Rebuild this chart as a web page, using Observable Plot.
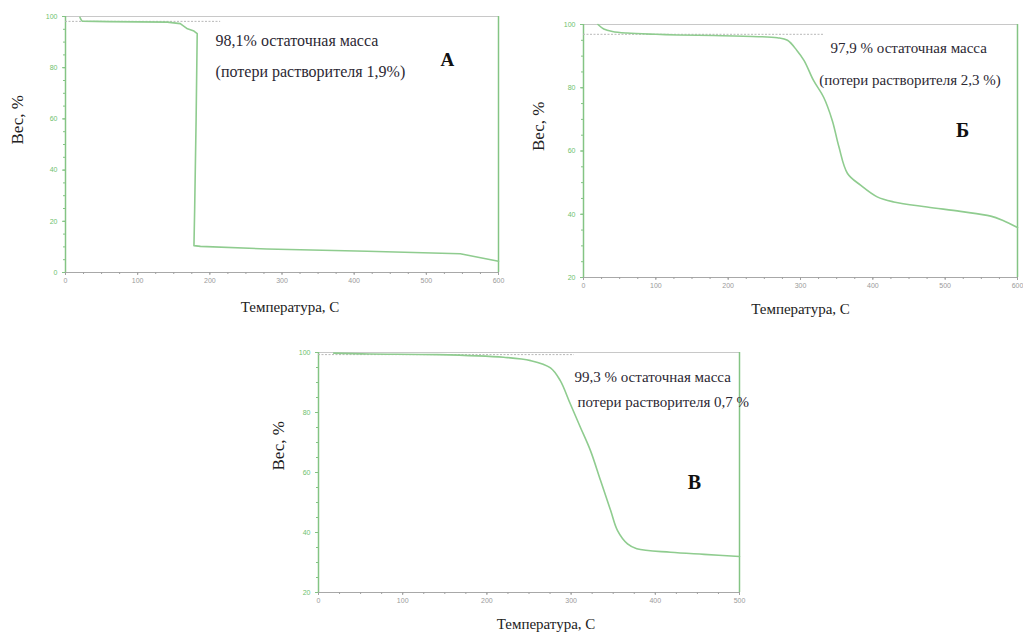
<!DOCTYPE html>
<html><head><meta charset="utf-8">
<script src="https://cdn.jsdelivr.net/npm/d3@7"></script>
<script src="https://cdn.jsdelivr.net/npm/@observablehq/plot@0.6"></script>
<style>
body{margin:0;background:#fff;width:1023px;height:636px;position:relative;overflow:hidden}
.p{position:absolute}
.p svg{background:transparent;overflow:visible}
</style>
</head><body>
<div id="pa" class="p" style="left:0;top:0"></div>
<div id="pb" class="p" style="left:515px;top:0"></div>
<div id="pv" class="p" style="left:260px;top:330px"></div>
<script>
// ---- Data ----
const xLabel = "Температура, С";
const yLabel = "Вес, %";

// Panel A
const tempA = [20, 21, 23, 60, 100, 141, 159, 169, 178, 182.5, 181, 179, 178, 187, 279, 418, 547, 600];
const massA = [99.7, 99.0, 98.2, 98.0, 97.9, 97.8, 97.2, 95.2, 94.3, 93.3, 60, 25, 10.5, 10.2, 9.2, 8.3, 7.3, 4.4];
const levelA = [{x1: 0, x2: 215, y: 98.1}];
const notesA = ["98,1% остаточная масса", "(потери растворителя 1,9%)"];
const letterA = "А";

// Panel Б
const tempB = [20, 28, 40, 60, 100, 130, 180, 221, 268, 282, 295, 305, 318, 332, 344, 353, 365, 383, 406, 429, 475, 521, 563, 580, 600];
const massB = [100, 98.6, 97.8, 97.3, 96.9, 96.7, 96.5, 96.3, 95.8, 95.0, 91.8, 88.6, 82.3, 77, 69.6, 61.4, 52.9, 49.2, 45.5, 43.9, 42.3, 40.9, 39.4, 38.0, 35.8];
const levelB = [{x1: 0, x2: 332, y: 96.9}];
const notesB = ["97,9 % остаточная масса", "(потери растворителя 2,3 %)"];
const letterB = "Б";

// Panel В
const tempV = [18, 60, 141, 220, 252, 275.5, 287, 299, 311, 323, 335, 347, 355, 367, 378, 418, 458, 500];
const massV = [99.8, 99.5, 99.3, 98.4, 97.3, 94.9, 90.7, 82.9, 75.1, 67.3, 57.3, 47.3, 40.7, 36.2, 34.6, 33.4, 32.7, 32];
const levelV = [{x1: 0, x2: 304, y: 99.3}];
const notesV = ["99,3 % остаточная масса", "потери растворителя 0,7 %"];
const letterV = "В";

// ---- Styles ----
const lineColor = "#8fcc8f";
const axisGreen = "#84c484";
const serif = "'Liberation Serif', 'Times New Roman', serif";
const sans = "'Liberation Sans', Arial, sans-serif";

function panel(cfg) {
  const pts = cfg.T.map((t, i) => ({t, w: cfg.W[i]}));
  const [x0, x1] = cfg.xDomain, [y0, y1] = cfg.yDomain;
  const noteData = cfg.notes.map((s, i) => ({s, x: cfg.notePos[i][0], y: cfg.notePos[i][1]}));
  const chart = Plot.plot({
    width: cfg.width, height: cfg.height,
    marginLeft: cfg.m[0], marginTop: cfg.m[1], marginRight: cfg.m[2], marginBottom: cfg.m[3],
    x: {domain: cfg.xDomain, axis: null},
    y: {domain: cfg.yDomain, axis: null},
    style: {fontFamily: serif, background: "transparent"},
    marks: [
      Plot.ruleY([y1], {stroke: "#c8c8c8", strokeWidth: 1.2}),
      Plot.ruleY([y0], {stroke: "#a8a8a8", strokeWidth: 1}),
      Plot.ruleX([x1], {stroke: axisGreen, strokeWidth: 1.5}),
      Plot.axisX({ticks: d3.range(x0, x1 + 1, 25), tickSize: 2, stroke: "#a0a0a0", tickFormat: () => ""}),
      Plot.axisX({ticks: d3.range(x0, x1 + 1, 100), tickSize: 3, tickPadding: 3, stroke: "#a0a0a0", fill: "#9a9a9a", fontSize: 7, fontFamily: sans, tickFormat: d => String(d)}),
      Plot.axisY({ticks: d3.range(y0, y1 + 1, 5), tickSize: 2, stroke: axisGreen, tickFormat: () => ""}),
      Plot.axisY({ticks: d3.range(y0, y1 + 1, 20), tickSize: 3, tickPadding: 5, stroke: axisGreen, fill: "#6fbf6f", fontSize: 7, fontFamily: sans, tickFormat: d => String(d)}),
      Plot.ruleX([x0], {stroke: axisGreen, strokeWidth: 1.5}),
      Plot.ruleY(cfg.level, {x1: "x1", x2: "x2", y: "y", stroke: "#b8b8b8", strokeWidth: 1, strokeDasharray: "2,1.5"}),
      Plot.line(pts, {x: "t", y: "w", stroke: lineColor, strokeWidth: 1.6, curve: cfg.curve}),
      Plot.text(noteData, {x: "x", y: "y", text: "s", textAnchor: "start", fontFamily: serif, fontSize: cfg.noteSize, fill: "#2c2833"}),
      Plot.text([cfg.letter], {x: cfg.letterPos[0], y: cfg.letterPos[1], text: d => d, fontFamily: serif, fontWeight: "bold", fontSize: cfg.letterSize, fill: "#111"}),
      Plot.text([yLabel], {frameAnchor: "left", dx: cfg.yLab[0], dy: cfg.yLab[1], rotate: -90, text: d => d, fontFamily: serif, fontSize: 17, fill: "#222"}),
      Plot.text([xLabel], {frameAnchor: "bottom", dx: cfg.xLab[0], dy: cfg.xLab[1], text: d => d, fontFamily: serif, fontSize: 15, fill: "#222"})
    ]
  });
  document.getElementById(cfg.id).appendChild(chart);
}

panel({id: "pa", width: 520, height: 325, m: [65, 16, 22, 53],
  xDomain: [0, 600], yDomain: [0, 100], T: tempA, W: massA, curve: "linear",
  level: levelA, notes: notesA, notePos: [[208, 90.6], [208, 78.4]], noteSize: 16,
  letter: letterA, letterPos: [529, 83.2], letterSize: 19, yLab: [-48, 0], xLab: [8, 39]});

panel({id: "pb", width: 508, height: 325, m: [68, 24, 6, 48],
  xDomain: [0, 600], yDomain: [20, 100], T: tempB, W: massB, curve: "catmull-rom",
  level: levelB, notes: notesB, notePos: [[341.5, 92.4], [326, 82.3]], noteSize: 15,
  letter: letterB, letterPos: [524, 66.5], letterSize: 20, yLab: [-45, 0], xLab: [0, 36]});

panel({id: "pv", width: 500, height: 306, m: [58, 22, 21, 44],
  xDomain: [0, 500], yDomain: [20, 100], T: tempV, W: massV, curve: "catmull-rom",
  level: levelV, notes: notesV, notePos: [[304, 91.7], [307.6, 83.3]], noteSize: 15,
  letter: letterV, letterPos: [446.6, 56.7], letterSize: 20, yLab: [-40, -2], xLab: [17, 36]});
</script>
</body></html>
